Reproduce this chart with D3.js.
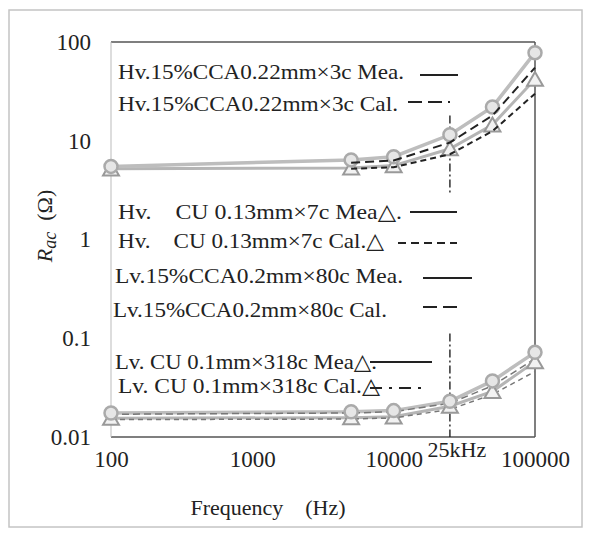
<!DOCTYPE html>
<html>
<head>
<meta charset="utf-8">
<script src="https://cdn.jsdelivr.net/npm/d3@7"></script>
<style>
  html, body { margin: 0; padding: 0; background: #fff; }
  svg text { font-family: "Times New Roman", "Liberation Serif", "DejaVu Serif", serif; fill: #222; }
</style>
</head>
<body>
<svg id="chart" width="589" height="535"></svg>
<script>
// ---------- data ----------
const frequencies = [100, 5000, 10000, 25000, 50000, 100000];
const hvCcaMea = [5.5, 6.4, 6.9, 11.5, 22, 78];
const hvCcaCal = [null, 6.0, 6.3, 9.6, 18, 55];
const hvCuMea  = [5.2, 5.3, 5.6, 8.3, 14.5, 42];
const hvCuCal  = [null, 5.2, 5.4, 7.3, 12.5, 30];
const lvCcaMea = [0.0175, 0.018, 0.0185, 0.023, 0.037, 0.072];
const lvCcaCal = [0.017, 0.0175, 0.018, 0.022, 0.033, 0.062];
const lvCuMea  = [0.0155, 0.0157, 0.016, 0.0205, 0.029, 0.058];
const lvCuCal  = [0.015, 0.0152, 0.0156, 0.019, 0.027, 0.046];
const xTicks = [100, 1000, 10000, 100000];
const xTickLabels = ["100", "1000", "10000", "100000"];
const yTicks = [0.01, 0.1, 1, 10, 100];
const yTickLabels = ["0.01", "0.1", "1", "10", "100"];
const legendLabels = [
  "Hv.15%CCA0.22mm×3c Mea.",
  "Hv.15%CCA0.22mm×3c Cal.",
  "Hv.\u00a0\u00a0\u00a0\u00a0CU 0.13mm×7c Mea△.",
  "Hv.\u00a0\u00a0\u00a0\u00a0CU 0.13mm×7c Cal.△",
  "Lv.15%CCA0.2mm×80c Mea.",
  "Lv.15%CCA0.2mm×80c Cal.",
  "Lv. CU 0.1mm×318c Mea△.",
  "Lv. CU 0.1mm×318c Cal.△"
];
const markerFreq = 25000;
const markerLabel = "25kHz";

// ---------- layout ----------
const FONT = "'Times New Roman', 'Liberation Serif', 'DejaVu Serif', serif";
const svg = d3.select("#chart");
const L = 111, R = 535, T = 42, B = 437;
const x = d3.scaleLog().domain([100, 100000]).range([L, R]);
const y = d3.scaleLog().domain([0.01, 100]).range([B, T]);

// outer frame
svg.append("rect").attr("x", 9).attr("y", 10).attr("width", 573).attr("height", 517)
  .attr("fill", "none").attr("stroke", "#c4c4c4").attr("stroke-width", 1.5);

// plot frame
svg.append("line").attr("x1", L).attr("x2", R).attr("y1", T).attr("y2", T).attr("stroke", "#555").attr("stroke-width", 1.5);
svg.append("line").attr("x1", R).attr("x2", R).attr("y1", T).attr("y2", B).attr("stroke", "#555").attr("stroke-width", 1.5);
svg.append("line").attr("x1", L).attr("x2", R).attr("y1", B).attr("y2", B).attr("stroke", "#555").attr("stroke-width", 1.5);
svg.append("line").attr("x1", L).attr("x2", L).attr("y1", T).attr("y2", B).attr("stroke", "#bbb").attr("stroke-width", 1);

// axes
const xAxis = d3.axisBottom(x).tickValues(xTicks).tickSize(0).tickPadding(14)
  .tickFormat((d, i) => xTickLabels[i]);
const gx = svg.append("g").attr("transform", `translate(0,${B})`).call(xAxis)
  .attr("font-family", FONT);
gx.select(".domain").remove();
gx.selectAll("text").attr("font-size", 23).style("font-family", FONT).attr("fill", "#222");

const yAxis = d3.axisLeft(y).tickValues(yTicks).tickSize(0).tickPadding(20)
  .tickFormat((d, i) => yTickLabels[i]);
const gy = svg.append("g").attr("transform", `translate(${L},0)`).call(yAxis)
  .attr("font-family", FONT);
gy.select(".domain").remove();
gy.selectAll("text").attr("font-size", 23).style("font-family", FONT).attr("fill", "#222");

// axis titles
svg.append("text").attr("x", 268).attr("y", 515).attr("text-anchor", "middle")
  .attr("font-size", 22).style("font-family", FONT).text("Frequency\u00a0\u00a0\u00a0\u00a0(Hz)");
const yt = svg.append("text").attr("transform", "translate(52,226) rotate(-90)")
  .attr("text-anchor", "middle").attr("font-size", 22).style("font-family", FONT);
yt.append("tspan").attr("font-style", "italic").text("R");
yt.append("tspan").attr("font-style", "italic").attr("font-size", 18).attr("dy", 4).text("ac");
yt.append("tspan").attr("dy", -4).text("\u00a0\u00a0(Ω)");

// 25 kHz marker
const vSegs = [[18, 2.8], [0.112, 0.01]];
vSegs.forEach(s => {
  svg.append("line").attr("x1", x(markerFreq)).attr("x2", x(markerFreq))
    .attr("y1", y(s[0])).attr("y2", y(s[1]))
    .attr("stroke", "#222").attr("stroke-width", 1.4).attr("stroke-dasharray", "8,3,2,3");
});
svg.append("text").attr("x", x(markerFreq) + 7).attr("y", 457).attr("text-anchor", "middle")
  .attr("font-size", 22).style("font-family", FONT).text(markerLabel);

// series
const line = d3.line().defined(d => d[1] != null).x(d => x(d[0])).y(d => y(d[1]));
const pts = arr => frequencies.map((f, i) => [f, arr[i]]);
function drawLine(arr, stroke, width, dash) {
  svg.append("path").datum(pts(arr)).attr("d", line).attr("fill", "none")
    .attr("stroke", stroke).attr("stroke-width", width).attr("stroke-dasharray", dash || null);
}
function drawCircles(arr, fill) {
  svg.append("g").selectAll("circle").data(pts(arr).filter(d => d[1] != null)).join("circle")
    .attr("cx", d => x(d[0])).attr("cy", d => y(d[1])).attr("r", 6.5)
    .attr("fill", fill).attr("stroke", "#aaa").attr("stroke-width", 2.5);
}
function drawTriangles(arr) {
  const sym = d3.symbol().type(d3.symbolTriangle).size(110);
  svg.append("g").selectAll("path").data(pts(arr).filter(d => d[1] != null)).join("path")
    .attr("transform", d => `translate(${x(d[0])},${y(d[1]) + 2})`).attr("d", sym)
    .attr("fill", "#f2f2f2").attr("stroke", "#999").attr("stroke-width", 2);
}

// Hv
drawLine(hvCuMea, "#b5b5b5", 3);
drawLine(hvCcaMea, "#bdbdbd", 3.5);
drawTriangles(hvCuMea);
drawCircles(hvCcaMea, "#e6e6e6");
drawLine(hvCcaCal, "#222", 2, "9,5");
drawLine(hvCuCal, "#222", 2, "6,4");
// Lv
drawLine(lvCuMea, "#b5b5b5", 3);
drawLine(lvCcaMea, "#bdbdbd", 3.5);
drawLine(lvCcaCal, "#777", 1.5, "7,4");
drawLine(lvCuCal, "#777", 1.5, "5,4");
drawTriangles(lvCuMea);
drawCircles(lvCcaMea, "#e6e6e6");

// legend (text + sample line)
const legendLayout = [
  {tx: 118, ty: 79,  w: 286, lx1: 420, lx2: 458, ly: 75,  dash: null},
  {tx: 118, ty: 111, w: 280, lx1: 408, lx2: 450, ly: 102, dash: "14,6"},
  {tx: 118, ty: 219, w: 284, lx1: 410, lx2: 457, ly: 212, dash: null},
  {tx: 118, ty: 248, w: 266, lx1: 398, lx2: 457, ly: 243, dash: "8,5"},
  {tx: 115, ty: 283, w: 288, lx1: 423, lx2: 472, ly: 278, dash: null},
  {tx: 113, ty: 317, w: 274, lx1: 423, lx2: 462, ly: 307, dash: "14,6"},
  {tx: 115, ty: 369, w: 262, lx1: 370, lx2: 432, ly: 362, dash: null},
  {tx: 118, ty: 393, w: 262, lx1: 370, lx2: 422, ly: 388, dash: "12,7,3,7"}
];
legendLabels.forEach((lab, i) => {
  const p = legendLayout[i];
  svg.append("text").attr("x", p.tx).attr("y", p.ty).attr("font-size", 22)
    .style("font-family", FONT)
    .attr("textLength", p.w).attr("lengthAdjust", "spacingAndGlyphs").text(lab);
  svg.append("line").attr("x1", p.lx1).attr("x2", p.lx2).attr("y1", p.ly).attr("y2", p.ly)
    .attr("stroke", "#222").attr("stroke-width", 2).attr("stroke-dasharray", p.dash);
});
</script>
</body>
</html>
